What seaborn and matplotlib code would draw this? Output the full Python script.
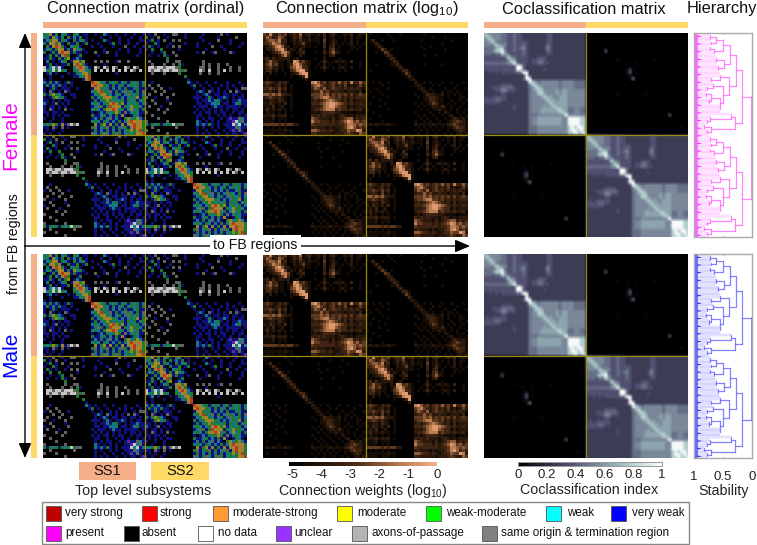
"""
plot.py
-------
Connection, log-weight and coclassification matrices for female and male,
with stability hierarchies. Grids are coarse readings off the figure, one
character per cell, for the within (A) and across (B) subsystem quadrants.
"""

import matplotlib
matplotlib.use("Agg")

import matplotlib.pyplot as plt
import numpy as np
import seaborn as sns
from matplotlib.colors import LinearSegmentedColormap, ListedColormap
from matplotlib.patches import Rectangle, Polygon

W, H = 757, 545
PEACH = "#F4AE88"
YELLOW = "#FFD966"
MIDLINE = "#9A8C10"

ORD_CODES = ["k", "b", "c", "g", "y", "o", "r", "d", "w", "a", "m", "p"]
# cells are about a pixel wide in the source, so they read dimmer than the key
ORD_COLORS = ["#000000", "#10107C", "#167884", "#1F7A30", "#8E8826", "#B87A30",
              "#B83A24", "#8C2018", "#C4C4C4", "#626262", "#A030A0", "#5A2A9C"]

ORD_A = [
    "gcybgkcgbkgckbbkkbkkcbkkbkkbkkbkkb",
    "cgbycbgkgbcbgkbkkkkbkkbkkbkkkbkkbk",
    "bcgoybgcbkgbcgbkbkkkcbkkkbkkbkkkbb",
    "gbyogybkgbbgkbgkkkbkkkbgkbkkbkkbkk",
    "kgbyrogbkcggbkkkbkkbkkkbkkkakkbkkb",
    "bcgbgoybgbycgbkkkkkkbkkkkbkkbkkkbk",
    "gkbgbyroybgbbkbkkakkbakkbkkkbkkkbk",
    "kbgkcbyrgkkbgkkkkkbkkkkkbkkkkkkbkk",
    "bbgbkgbgykbcbkkkkkkkkkkkkkkkkkkkkk",
    "kckbkbcgkbyogykkkakakakkbakkakkkkk",
    "kbgkbkbbgkyrygbkkkkkbkkkkkkkkkkkkk",
    "wbcwcwbkkkcyrocbkwakwakwakkwakwakk",
    "wcgwgwgckkgcoycgkwkwkwkwkwkwkwakwk",
    "kbckbkkkbkbgcyogkkkkkkkkbkkkkkkkkk",
    "kkbkkkbkkkbbcgorkkkkkkkkkkkkkkkkkk",
    "bkbkkkkkkkkkkbyrkkkkkkkkkkkkkkkkkk",
    "cbgbcbkbgbkkkkkkroycgbgcgbcgbgcgbc",
    "bgbcbgbbkbkkkkkkoryogcbgbcgbcgcgbg",
    "bkbgbkbbbkkbkkkkbyogcgbcbcbgbbcgbb",
    "bkabkbkabkkkkkkkcgyrgcabgbcagcbgba",
    "gbgygcbkkbbkkkkkbcgyogcbcgbcagcgbc",
    "bkbgycgbkkbkkkkkgbcgyoygcbcbcgcybg",
    "bbkbkbkbbkkkkkkkbgbcgygcgcgbgcgbcg",
    "cbkbakbkbkkkkkkkcgcbcgorygybcgcgbc",
    "bkbbkbkbkkkkkkkkbcagbgryoybgcyggcb",
    "bkabkbkakbkkkkkkcgcbgyyrocgbcycgbg",
    "bbkbbkbkkkkkkkkkbkbcbgcgygbabcgcbb",
    "kbkbkbkbbkkkkkkkgbbcgbcbgbybkbgcbk",
    "bkkbkkbkkkkkkkkkbcbgbcabcbkgycgycb",
    "kkbkkkbkkkkkkkkkcgcbgcbcbgbcyroyog",
    "gcgygbybawawkkkkkybgybybgbybyoryog",
    "bbkabkakbkkkkkkkgabcgabgbcagbyroyg",
    "kbkbkkbkkkkkkkkkbgbcbgbcbgbcgygyrg",
    "bkbkkbkkkkkkkkkkacbgacbgagbcgcgoyr",
]
ORD_B = [
    "kbkakkbkkaakkbkkkkkbkkkkkakbkkkkkk",
    "gkbkakkbkkkkkbkkkkbkkkkkbkkkkkakkk",
    "kbgkbkakkakakkkkkkkbkkkkakkkbkkkkk",
    "bkkgbkkkbkkkkbkkkbkkkbkkkkkkbkkkbk",
    "kgbkbkkbkakakkkkkbkkkkakkbkkkkkbkk",
    "bkgkkgkkkkkbkkkkkkkkbkkkkkbkkkkkkk",
    "kkbkkbgkkakkkkkkkbkakkbakkkkabkkkk",
    "kbkkbkgbkkakkkkkkkkkkkkkkkkkkkkkkk",
    "kkkkkkkgkkkkkkkkkkkkkkkkkkkkkkkkkk",
    "kakkkkkakkaakkkkkkkakkkkkkkkkkkkkk",
    "kkakkkakkakgbkkkkkkakakkakkakkkkkk",
    "kwwawwawwwagkkkkkkaakakkakkkakkakk",
    "kwawwawwawwagakkkkwakwkkakwkakkakk",
    "kkakkkakkkkgkkkkkkakkakkakkkkkkkkk",
    "kkkkkkkkkkkkkgkkkkkkkkkkkkkkkkkkkk",
    "kkkkkkkkkkkkkkbkkkkkkkkkkkkkkkkkkk",
    "kkbkkkkkkkkkkkcbkbkkbkkbkkkbkkkbkk",
    "kakkakkkkkkkkkkbgkbkkbkkkbkbkbkkbk",
    "bkakkakkbkkkkkkkbkkbkkbkbkkbkkbkaa",
    "kkkakkakkkkkkkkkkbcbkabkbkbkakabkk",
    "kakkkakkkakkkkkkkbkbcbkbbkbbkbbkbk",
    "akkbkkkakkkkkkkkbbbkbgbkbbcbkbkbbk",
    "kkakkkkbkkkkkkkkkbkbbcbcgbkbkbbcbb",
    "bkkakkkkakkkkkkkkbbkbbccckbbkbcgbb",
    "kakkkbkkkkkkkkkkbkbbbkbcbbkbbbbbkb",
    "kkkkakkakkkkkkkkkbkbkbkbkbkbkbbkbk",
    "akkkkkakkkkkkkkkbkbkbbkbkbbkkbkbbk",
    "kkakkkkkkkkkkkkkkbbkkbkkbkbkbkkbkb",
    "kkkkakkkkkkkkkkkkbkbkbbkkbkbpbbacb",
    "akkkkkkakkkkkkkkkcbkbkbkbkkbbpwcab",
    "gbgcgbgcgwgaakkkkcbcbgbkbkbbbwcwbc",
    "kkakkkkkkkakkkkkkbkbkkbkbkkbbbacbb",
    "akkkakkkkkkkkkkkkbkkbkkbkkbkbpbabk",
    "kkkkkkkakkkkkkkkkbkbkbkkbkkbkbbkbp",
]

# digits 0-9, 0 is no connection
LOG_A = [
    "4363243412325123"   "112130231012130121",
    "3542354201324112"   "011030120101020110",
    "2455462301213212"   "111040121001020100",
    "3346553200212411"   "001030131010120101",
    "1234675220111211"   "010030230100011010",
    "0223567412103100"   "000020341100010100",
    "1012346641012300"   "010031352100100000",
    "0101124631002100"   "000010230000000000",
    "2313122220120000"   "010020000100000000",
    "1353311021763421"   "000131012121030010",
    "2453411013675321"   "001020100101000010",
    "2342211014576331"   "010131010121020010",
    "1331201003467731"   "000010000101000000",
    "1020100101236771"   "000000000000000000",
    "0100000001001371"   "000000000000000000",
    "0100000000000020"   "000000000000000000",
    "3432132310000000"   "675342343534263353",
    "2321231201000000"   "456432342324121242",
    "3343242301000000"   "354352343323232321",
    "2232141201000000"   "233534223221222130",
    "5545453221000000"   "444545343434242343",
    "2343232101000000"   "344566443423232333",
    "1122132101000000"   "232345654323131222",
    "2132121301000000"   "333456776543232232",
    "1213012001000000"   "222356775433121222",
    "1312121101000000"   "233456663433232231",
    "0211010100000000"   "121233332211110111",
    "2223122201000000"   "323232221232121222",
    "1112011100000000"   "543222131234552323",
    "1111010100000000"   "644333232345764534",
    "4444434344220000"   "433333332334665454",
    "0101010100000000"   "232221212234675343",
    "1111111211000000"   "554332321233544762",
    "1111011101000000"   "332222212223432254",
]
LOG_B = [
    "0100000100010000"   "000100000000000000",
    "1000000010000000"   "000000100010000000",
    "0130010001000000"   "001000000000100000",
    "0013100000000000"   "000000000100000000",
    "0001310000000000"   "001001000000000000",
    "0000142010000000"   "000100000010000000",
    "0001014300000000"   "000000000000000000",
    "0000001320000000"   "000100010000000000",
    "0000000132000000"   "000000000000000000",
    "0000000013200000"   "000000000000000000",
    "0001000011310000"   "000100000100000000",
    "0000000000131000"   "000000000000000000",
    "0100000000013310"   "000000000000000000",
    "0000000000001420"   "000000000000000000",
    "0000000000000131"   "000000000000000000",
    "0000000000000012"   "100000000000000000",
    "1010100100000000"   "210101000100100010",
    "0000010000000000"   "121000101000001000",
    "1001000100000000"   "012101000010010001",
    "0100100000000000"   "001210100101101000",
    "1000010000000000"   "100132211201010100",
    "0010000100000000"   "010123321101000110",
    "0000100000000000"   "000113321100100101",
    "0100001000000000"   "101012431101010010",
    "0000100000000000"   "010101221310100100",
    "1000000100000000"   "001010112110101001",
    "0010000000000000"   "100001001021001010",
    "0000100000000000"   "010100100101200101",
    "0100000000000000"   "001010010010132121",
    "0000010000000000"   "100101001001234321",
    "1212111211000000"   "211111211112343221",
    "0000000000000000"   "010101010101134331",
    "0100000100000000"   "101010101001012321",
    "0000000000000000"   "010010010010101212",
]

# digits index COCLASS_LEVELS
COCLASS_LEVELS = [0, 0.06, 0.27, 0.36, 0.46, 0.54, 0.63, 0.78, 0.97, 1.0]
COCLASS_A = [
    "7655554433433222"   "222223322222222222",
    "6765554433433222"   "222223322222222222",
    "5676554433433222"   "222223322222222222",
    "5567544433433332"   "222223322222222222",
    "5555765533433432"   "222224322222222222",
    "4444677433434532"   "222235322222222222",
    "4445779533433432"   "222224322222222222",
    "4443447643333432"   "222223322222222222",
    "3333333475433332"   "223332222222222222",
    "3333333357633332"   "334432222222222222",
    "4444444456843332"   "334433222222222222",
    "3333333333388422"   "222222222222222222",
    "3333333333388422"   "222232222222222222",
    "2232323333344882"   "222222222222222222",
    "2222222222222283"   "222222222222222222",
    "2222222222222388"   "222222222222222222",
    "2222222222222238"   "754555555455554444",
    "2222223333222225"   "775555555455554444",
    "2223334444322224"   "577655555455554444",
    "2222335533322224"   "567755556566555555",
    "2222223322222224"   "557765556566555555",
    "2323333322222224"   "555676655666555555",
    "3333443322222224"   "555567665666555555",
    "3333332222222224"   "555556766666555555",
    "2222222222322224"   "555565676666555555",
    "2222222222322224"   "555666667766445544",
    "2222222222222224"   "555666666776445544",
    "2222222222222224"   "445555555568555555",
    "2222222222222224"   "556666666655888877",
    "2222222222222224"   "556666666655888877",
    "2222222222222224"   "556666666655888877",
    "2222222222222224"   "445555555555787887",
    "2222222222222224"   "445555555555788787",
    "2222222222222224"   "445555555555778778",
]
COCLASS_B = [
    "0000000000000000"   "000000000000000000",
    "0000000000000000"   "000000000000000000",
    "0000000000000000"   "000000000000000000",
    "0000000000000000"   "000000000000000000",
    "0000000000000000"   "000000000000000000",
    "0000001000000000"   "000000000000000000",
    "0000003000000000"   "000000000000000000",
    "0000000000000000"   "000000000000000000",
    "0000000000000000"   "000000000000000000",
    "0000000000100000"   "000000100000000000",
    "0000000000000100"   "100000000000000000",
    "0000000000000000"   "000000000000000000",
    "0000000000000120"   "000000000000000000",
    "0000000000000130"   "100000000000000000",
    "0000000000000110"   "000000000000000000",
    "0000000000000014"   "000000000000000000",
    "0000000000000000"   "000000000000000000",
    "0000000000000000"   "000000000000000000",
    "0000000000000000"   "000000000000000000",
    "0000000000000000"   "000000000000000000",
    "0000000000100000"   "000100000000000000",
    "0000000000000000"   "000000000000000000",
    "0000000000000000"   "000000000000000000",
    "0000000000000000"   "000000000000000000",
    "0000000000000000"   "000000000000000000",
    "0000000000000000"   "000000000000000000",
    "0000000000000000"   "000000000000000000",
    "0000000000000000"   "000000000003000000",
    "0000000000000000"   "000000000000000000",
    "0000000000000000"   "000000000000000000",
    "0000000000000000"   "000000000000000000",
    "0000000000000000"   "000000000000000100",
    "0000000000000000"   "000000000000000000",
    "0000000000000000"   "000000000000000000",
]

# (stability, child, child); an int is a run of leaves
HALF_TREE = (0.18,
    (0.28,
        (0.38,
            (0.5,
                (0.62, (0.72, 5, 3), (0.7, 4, 3)),
                (0.65, (0.72, 3, 4), 4)),
            (0.48, (0.62, 6, 5), (0.58, 4, 5))),
        (0.4,
            (0.56, 6, (0.7, 3, 3)),
            (0.5,
                (0.68, 4, (0.78, 3, 4)),
                (0.55, (0.7, (0.8, 3, 4), (0.75, 4, 4)), 10)))),
    (0.3,
        (0.36, 3, (0.72, 4, (0.78, 3, 3))),
        (0.7, (0.82, 3, 3), (0.78, 3, 4))))
WEDGE_EVERY = 9

LOG_TICKS = [-5, -4, -3, -2, -1, 0]
COCLASS_TICKS = [0, 0.2, 0.4, 0.6, 0.8, 1]
STABILITY_TICKS = [1, 0.5, 0]
STABILITY_LABELS = ["1", "0.5", "0"]

LEGEND_ROW1 = ["very strong", "strong", "moderate-strong", "moderate",
               "weak-moderate", "weak", "very weak"]
LEGEND_ROW1_COLORS = ["#C00000", "#FF0000", "#FF9933", "#FFFF00",
                      "#00FF00", "#00FFFF", "#0000FF"]
LEGEND_ROW2 = ["present", "absent", "no data", "unclear", "axons-of-passage",
               "same origin & termination region"]
LEGEND_ROW2_COLORS = ["#FF00FF", "#000000", "#FFFFFF", "#9933FF", "#B3B3B3", "#808080"]

sns.set_theme(style="white")
plt.rcParams["font.family"] = ["Liberation Sans", "DejaVu Sans"]
plt.rcParams["mathtext.fontset"] = "custom"
plt.rcParams["mathtext.rm"] = "Liberation Sans"
plt.rcParams["mathtext.default"] = "regular"

fig = plt.figure(figsize=(W / 100, H / 100), dpi=100)


def ax_px(x0, y0, x1, y1):
    """Axes placed by pixel box, y measured from the top."""
    return fig.add_axes([x0 / W, 1 - y1 / H, (x1 - x0) / W, (y1 - y0) / H])


def quadrants(a, b):
    return np.vstack([np.hstack([a, b]), np.hstack([b, a])])


def char_grid(rows):
    return np.array([list(r.ljust(34, rows[0][0])[:34]) for r in rows])


def ordinal_matrix():
    lookup = {c: i for i, c in enumerate(ORD_CODES)}
    to_num = np.vectorize(lookup.get)
    return quadrants(to_num(char_grid(ORD_A)), to_num(char_grid(ORD_B))).astype(float)


def log_matrix():
    a = char_grid(LOG_A).astype(float)
    b = char_grid(LOG_B).astype(float)
    return quadrants(a, b) * 0.65 - 5.1


def coclass_matrix():
    levels = np.array(COCLASS_LEVELS)
    a = levels[char_grid(COCLASS_A).astype(int)]
    b = levels[char_grid(COCLASS_B).astype(int)]
    return quadrants(a, b)


def midlines(ax, n=68):
    ax.axhline(n / 2, color=MIDLINE, lw=0.9)
    ax.axvline(n / 2, color=MIDLINE, lw=0.9)


def leaf_count(node):
    if isinstance(node, int):
        return node
    return leaf_count(node[1]) + leaf_count(node[2])


def draw_node(ax, node, counter, color):
    """Draw one subtree, returns the y of its stem."""
    stab, left, right = node
    ys = []
    for child in (left, right):
        if isinstance(child, int):
            first = counter[0]
            for i in range(child):
                y = first + i + 0.5
                ax.plot([1, stab], [y, y], color=color, lw=0.35, alpha=0.4)
                ax.plot([1, 0.94], [y, y], color=color, lw=0.7)
            counter[0] += child
            ys.append(first + child / 2)
        else:
            cy = draw_node(ax, child, counter, color)
            ax.plot([stab, child[0]], [cy, cy], color=color, lw=0.9, alpha=0.8)
            ys.append(cy)
    ax.plot([stab, stab], ys, color=color, lw=0.9, alpha=0.8)
    return sum(ys) / 2


def draw_hierarchy(y0, color, solid, labelled):
    ax = ax_px(694, y0, 752, y0 + 204)
    n = 2 * leaf_count(HALF_TREE)
    counter = [0]
    y_top = draw_node(ax, HALF_TREE, counter, color)
    y_bot = draw_node(ax, HALF_TREE, counter, color)
    for y in (y_top, y_bot):
        ax.plot([0, HALF_TREE[0]], [y, y], color=color, lw=0.9, alpha=0.8)
    ax.plot([0, 0], [y_top, y_bot], color=color, lw=1.4, alpha=0.8)
    for y in range(4, n, WEDGE_EVERY):
        ax.add_patch(Polygon([(1, y - 1.6), (1, y + 1.6), (0.86, y)], color=solid, lw=0))
    ax.set_xticks(STABILITY_TICKS)
    ax.set_xticklabels(STABILITY_LABELS if labelled else [], fontsize=9.5, color="#222222")
    ax.set_yticks([])
    ax.tick_params(axis="x", length=0, pad=9)
    for s in ax.spines.values():
        s.set_color("#AAAAAA")
        s.set_linewidth(1)
    ax.plot([0.5, 0.5], [0, 1.2], color="#888888", lw=0.6)
    ax.plot([0.5, 0.5], [n - 1.2, n], color="#888888", lw=0.6)
    ax.set_xlim(1, 0)
    ax.set_ylim(n, 0)


def draw_matrices(y0, ord_m, log_m, co_m, ord_cmap, log_cmap, labelled):
    y1 = y0 + 204
    ax = ax_px(43, y0, 247, y1)
    sns.heatmap(ord_m, ax=ax, cmap=ord_cmap, vmin=-0.5, vmax=len(ORD_CODES) - 0.5, cbar=False,
                xticklabels=False, yticklabels=False)
    midlines(ax)

    ax = ax_px(263, y0, 468, y1)
    log_kws = dict(ax=ax, cmap=log_cmap, vmin=-5.1, vmax=0, xticklabels=False, yticklabels=False)
    if labelled:
        cax = ax_px(289, 462, 437, 466)
        sns.heatmap(log_m, cbar_ax=cax, cbar_kws={"orientation": "horizontal", "ticks": LOG_TICKS},
                    **log_kws)
        cax.set_xticklabels([str(t) for t in LOG_TICKS], fontsize=9.5, color="#222222")
        cax.tick_params(length=0, pad=2)
    else:
        sns.heatmap(log_m, cbar=False, **log_kws)
    midlines(ax)

    # gouraud keeps the soft look of the source, nodes sit at 0..67
    ax = ax_px(484, y0, 688, y1)
    co_kws = dict(ax=ax, cmap="bone", vmin=0, vmax=1, xticklabels=False, yticklabels=False,
                  shading="gouraud")
    if labelled:
        cax = ax_px(518, 462, 662, 466)
        sns.heatmap(co_m, cbar_ax=cax,
                    cbar_kws={"orientation": "horizontal", "ticks": COCLASS_TICKS}, **co_kws)
        cax.set_xticklabels(["0", "0.2", "0.4", "0.6", "0.8", "1"], fontsize=9.5, color="#222222")
        cax.tick_params(length=0, pad=2)
        for s in cax.spines.values():
            s.set_visible(True)
            s.set_color("#999999")
            s.set_linewidth(0.6)
    else:
        sns.heatmap(co_m, cbar=False, **co_kws)
    ax.set_xlim(0, 67)
    ax.set_ylim(67, 0)
    midlines(ax, 67)


def draw_annotations():
    ax = fig.add_axes([0, 0, 1, 1], zorder=5)
    ax.set_xlim(0, W)
    ax.set_ylim(H, 0)
    ax.axis("off")
    ax.patch.set_alpha(0)

    # subsystem bars
    for x0, x1 in [(43, 247), (263, 468), (484, 688)]:
        mid = (x0 + x1) / 2
        ax.add_patch(Rectangle((x0, 22), mid - x0, 6, color=PEACH, lw=0))
        ax.add_patch(Rectangle((mid, 22), x1 - mid, 6, color=YELLOW, lw=0))
    for y0 in (33, 254):
        ax.add_patch(Rectangle((31, y0), 6, 102, color=PEACH, lw=0))
        ax.add_patch(Rectangle((31, y0 + 102), 6, 102, color=YELLOW, lw=0))

    title = dict(ha="center", va="center", fontsize=11.8, color="#111111")
    ax.text(145.5, 9, "Connection matrix (ordinal)", **title)
    ax.text(367, 9, "Connection matrix (log$_{10}$)", **title)
    ax.text(583.5, 9, "Coclassification matrix", **title)
    ax.text(722, 9, "Hierarchy", **title)

    # arrows
    arrow = dict(arrowstyle="-|>,head_width=0.32,head_length=0.75", color="black", lw=1,
                 shrinkA=0, shrinkB=0)
    ax.annotate("", xy=(25, 33), xytext=(25, 246), arrowprops=arrow)
    ax.annotate("", xy=(25, 458), xytext=(25, 246), arrowprops=arrow)
    ax.annotate("", xy=(470, 246), xytext=(25, 246), arrowprops=arrow)
    ax.text(255.5, 245, "to FB regions", ha="center", va="center", fontsize=10.2,
            color="#111111", bbox=dict(fc="white", ec="none", pad=2))
    ax.text(14, 244, "from FB regions", rotation=90, ha="center", va="center",
            fontsize=10.2, color="#111111")
    ax.text(11, 135, "Female", rotation=90, ha="center", va="center", fontsize=15, color="#FF00FF")
    ax.text(11, 354, "Male", rotation=90, ha="center", va="center", fontsize=15, color="#0000FF")

    # subsystem key
    ax.add_patch(Rectangle((79, 462), 57, 18, color=PEACH, lw=0))
    ax.add_patch(Rectangle((151, 462), 58, 18, color=YELLOW, lw=0))
    ax.text(107.5, 471, "SS1", ha="center", va="center", fontsize=10.5, color="#111111")
    ax.text(180, 471, "SS2", ha="center", va="center", fontsize=10.5, color="#111111")

    foot = dict(ha="center", va="center", fontsize=10.3, color="#222222")
    ax.text(143, 490.5, "Top level subsystems", **foot)
    ax.text(363, 490.5, "Connection weights (log$_{10}$)", **foot)
    ax.text(589, 490.5, "Coclassification index", **foot)
    ax.text(724, 490.5, "Stability", **foot)

    # ordinal legend
    ax.add_patch(Rectangle((42, 502), 647, 42, fc="white", ec="#888888", lw=1))
    row1_x = [46, 142, 213, 337, 426, 546, 611]
    row2_x = [46, 124, 198, 276, 352, 482]
    row1_t = [65, 160, 232, 357, 446, 567, 632]
    row2_t = [65, 142, 218, 294, 371, 501]
    for names, colors, xs, ts, yc in [(LEGEND_ROW1, LEGEND_ROW1_COLORS, row1_x, row1_t, 513),
                                      (LEGEND_ROW2, LEGEND_ROW2_COLORS, row2_x, row2_t, 533)]:
        for name, c, x, t in zip(names, colors, xs, ts):
            ax.add_patch(Rectangle((x, yc - 7.5), 15, 15, fc=c, ec="#555555", lw=0.6))
            ax.text(t, yc, name, ha="left", va="center", fontsize=8.4, color="#111111")


def main():
    ord_cmap = ListedColormap(ORD_COLORS)
    log_cmap = LinearSegmentedColormap.from_list(
        "peach", [(0, "#000000"), (0.45, "#4A2A14"), (0.75, "#B87A4E"), (1, "#F7B088")])
    ord_m = ordinal_matrix()
    log_m = log_matrix()
    co_m = coclass_matrix()

    draw_matrices(33, ord_m, log_m, co_m, ord_cmap, log_cmap, False)
    draw_matrices(254, ord_m, log_m, co_m, ord_cmap, log_cmap, True)
    draw_hierarchy(33, "#FF66FF", "#FF00FF", False)
    draw_hierarchy(254, "#6666FF", "#0000FF", True)
    draw_annotations()
    fig.savefig("out.png", dpi=100)


if __name__ == "__main__":
    main()
